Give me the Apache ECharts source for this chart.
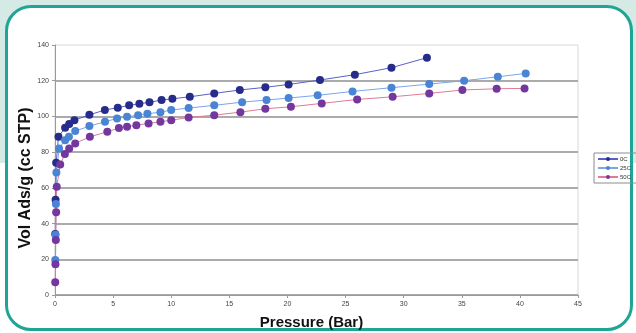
<!DOCTYPE html>
<html>
<head>
<meta charset="utf-8">
<script src="https://cdn.jsdelivr.net/npm/echarts@6/dist/echarts.min.js"></script>
<style>
html,body{margin:0;padding:0;}
body{width:636px;height:333px;overflow:hidden;position:relative;
 background:linear-gradient(to bottom,#d5e9e5 0px,#d5e9e5 163px,#ffffff 163px);}
#frame{position:absolute;left:5px;top:5px;width:622px;height:320px;border:3px solid #1ea595;border-radius:26px;background:#fff;}
#chart{position:absolute;left:0;top:0;width:636px;height:333px;}
</style>
</head>
<body>
<div id="frame"></div>
<div id="chart"></div>
<script>
// Pressure (Bar) and Vol Ads/g (cc STP) for each isotherm
const p0C  = [0.02, 0.05, 0.1, 0.3, 0.87, 1.22, 1.67, 2.96, 4.29, 5.4, 6.38, 7.26, 8.13, 9.17, 10.1, 11.6, 13.7, 15.9, 18.1, 20.1, 22.8, 25.8, 28.95, 32.0];
const v0C  = [34.2, 53.4, 74.0, 88.6, 93.6, 95.7, 97.9, 100.9, 103.6, 104.9, 106.2, 107.1, 107.9, 109.2, 109.9, 111.0, 112.9, 114.8, 116.3, 117.9, 120.4, 123.4, 127.3, 132.9];
const p25C = [0.02, 0.05, 0.08, 0.12, 0.35, 0.87, 1.2, 1.74, 2.96, 4.3, 5.34, 6.2, 7.15, 7.95, 9.07, 10.0, 11.5, 13.7, 16.1, 18.2, 20.1, 22.6, 25.6, 28.95, 32.2, 35.2, 38.1, 40.5];
const v25C = [19.6, 33.8, 51.0, 68.6, 82.1, 86.7, 88.6, 91.8, 94.6, 97.0, 98.9, 99.8, 100.7, 101.5, 102.4, 103.6, 104.7, 106.2, 108.0, 109.2, 110.3, 111.8, 114.0, 116.1, 118.1, 120.0, 122.2, 124.1];
const p50C = [0.02, 0.04, 0.07, 0.1, 0.15, 0.45, 0.85, 1.22, 1.74, 3.0, 4.5, 5.5, 6.2, 7.0, 8.05, 9.07, 10.0, 11.5, 13.7, 15.95, 18.1, 20.3, 22.95, 26.0, 29.05, 32.2, 35.05, 38.0, 40.4];
const v50C = [7.2, 17.2, 30.8, 46.3, 60.6, 73.1, 79.0, 82.1, 84.9, 88.6, 91.4, 93.5, 94.2, 95.1, 96.1, 97.0, 97.9, 99.4, 100.7, 102.4, 104.3, 105.4, 107.3, 109.5, 111.0, 112.9, 114.8, 115.5, 115.7];
const seriesNames = ['0C', '25C', '50C'];
const xTitle = 'Pressure (Bar)';
const yTitle = 'Vol Ads/g (cc STP)';

const zip = (xs, ys) => xs.map((x, i) => [x, ys[i]]);
const font = 'Liberation Sans, Arial, sans-serif';
const colors = [
  {dot: '#272b8a', line: '#5a60c4'},
  {dot: '#4a84d4', line: '#7aa6e6'},
  {dot: '#74379f', line: '#e07a95'}
];
const mk = (name, data, c) => ({
  name, type: 'line', data, symbol: 'circle', symbolSize: 8,
  itemStyle: {color: c.dot},
  lineStyle: {color: c.line, width: 1},
  emphasis: {disabled: true}, animation: false
});

const chart = echarts.init(document.getElementById('chart'), null, {renderer: 'canvas'});
chart.setOption({
  backgroundColor: 'transparent',
  animation: false,
  grid: {left: 55, top: 45, width: 523, height: 250, outerBoundsMode: 'none', show: true, borderColor: '#d8d8d8', borderWidth: 1, backgroundColor: 'transparent'},
  legend: {
    orient: 'vertical', left: 594, top: 153,
    data: seriesNames,
    itemWidth: 20, itemHeight: 5, itemGap: 3,
    borderColor: '#8c8c8c', borderWidth: 1, padding: [3, 12, 3, 3],
    textStyle: {fontSize: 6, fontFamily: font, color: '#333', padding: [0,0,0,-3]}
  },
  xAxis: {
    type: 'value', min: 0, max: 45, interval: 5,
    name: xTitle, nameLocation: 'middle', nameGap: 20, nameMoveOverlap: false,
    nameTextStyle: {fontSize: 15, fontWeight: 'bold', fontFamily: font, color: '#111', padding: [0, 10, 0, 0]},
    axisLine: {lineStyle: {color: '#9a9a9a', width: 1}},
    axisTick: {show: true, length: 3, lineStyle: {color: '#9a9a9a'}},
    axisLabel: {fontSize: 7, fontFamily: font, color: '#444', margin: 6},
    splitLine: {show: false}
  },
  yAxis: {
    type: 'value', min: 0, max: 140, interval: 20,
    name: yTitle, nameLocation: 'middle', nameGap: 21, nameMoveOverlap: false,
    nameTextStyle: {fontSize: 16, fontWeight: 'bold', fontFamily: font, color: '#111', padding: [0, 16, 0, 0]},
    axisLine: {show: true, lineStyle: {color: '#9a9a9a', width: 1}},
    axisTick: {show: true, length: 3, lineStyle: {color: '#9a9a9a'}},
    axisLabel: {fontSize: 7, fontFamily: font, color: '#444', margin: 6},
    splitLine: {show: true, showMaxLine: false, lineStyle: {color: '#ababab', width: 2}}
  },
  series: [
    mk(seriesNames[0], zip(p0C, v0C), colors[0]),
    mk(seriesNames[1], zip(p25C, v25C), colors[1]),
    mk(seriesNames[2], zip(p50C, v50C), colors[2])
  ]
});
</script>
</body>
</html>
